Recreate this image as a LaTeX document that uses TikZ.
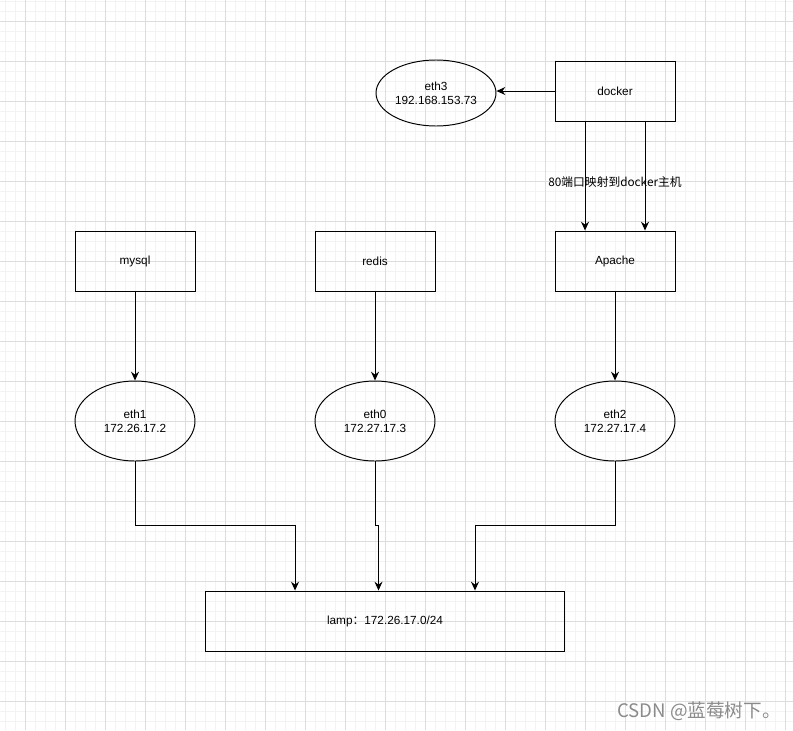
\documentclass[tikz,border=0pt]{standalone}
\usepackage{fontspec}
\setmainfont{Liberation Sans}
\newfontfamily\cjk{Noto Sans CJK SC}
\usetikzlibrary{arrows.meta,shapes.geometric,positioning}
\definecolor{gridmajor}{HTML}{DDDDDD}
\definecolor{gridminor}{HTML}{F3F3F3}
\definecolor{markgray}{HTML}{8A8A8A}

\begin{document}
\begin{tikzpicture}[x=0.02cm,y=-0.02cm,line width=0.55pt,>={Stealth[length=5pt,width=4.5pt]},
  font=\fontsize{6.7}{8}\selectfont,
  box/.style={draw,minimum width=2.4cm,minimum height=1.2cm,inner sep=0pt},
  port/.style={draw,ellipse,minimum width=2.4cm,minimum height=1.6cm,inner sep=0pt,align=center},
  link/.style={->}]
 \useasboundingbox (0,0) rectangle (793,730);
 % background grid
 \foreach \x in {5,15,...,795} \draw[gridminor,line width=0.5pt] (\x,0) -- (\x,730);
 \foreach \y in {1,11,...,730} \draw[gridminor,line width=0.5pt] (0,\y) -- (793,\y);
 \foreach \x in {25,65,...,795} \draw[gridmajor,line width=0.5pt] (\x,0) -- (\x,730);
 \foreach \y in {21,61,...,730} \draw[gridmajor,line width=0.5pt] (0,\y) -- (793,\y);

 \node[box] (docker) at (615,91) {docker};
 \node[port,minimum height=1.32cm] (eth3) at (436,93) {eth3\\192.168.153.73};

 \node[box] (mysql) at (135,261) {mysql};
 \node[box] (redis) at (375,261) {redis};
 \node[box] (apache) at (615,261) {Apache};

 \node[port] (eth1) at (135,421) {eth1\\172.26.17.2};
 \node[port] (eth0) at (375,421) {eth0\\172.27.17.3};
 \node[port] (eth2) at (615,421) {eth2\\172.27.17.4};

 \node[box,minimum width=7.2cm] (lamp) at (385,621) {lamp{\cjk ：}172.26.17.0/24};

 \draw[link] (docker.west) -- (docker.west -| eth3.east);
 \draw[link] ([xshift=-0.6cm]docker.south) -- ([xshift=-0.6cm]apache.north);
 \draw[link] ([xshift=0.6cm]docker.south) -- ([xshift=0.6cm]apache.north);
 \node[font=\cjk\fontsize{6.7}{8}\selectfont] (portmap) at (615,182) {80端口映射到docker主机};

 \draw[link] (mysql) -- (eth1);
 \draw[link] (redis) -- (eth0);
 \draw[link] (apache) -- (eth2);

 \draw[link] (eth1.south) -- ++(0,64) -| ([xshift=-1.8cm]lamp.north);
 \draw[link] (eth0.south) -- ++(0,64) -| ([xshift=-0.13cm]lamp.north);
 \draw[link] (eth2.south) -- ++(0,64) -| ([xshift=1.8cm]lamp.north);

 \node[markgray,font=\cjk\fontsize{10.6}{12}\selectfont] (mark) at (699,711) {CSDN @蓝莓树下。};
\end{tikzpicture}
\end{document}
